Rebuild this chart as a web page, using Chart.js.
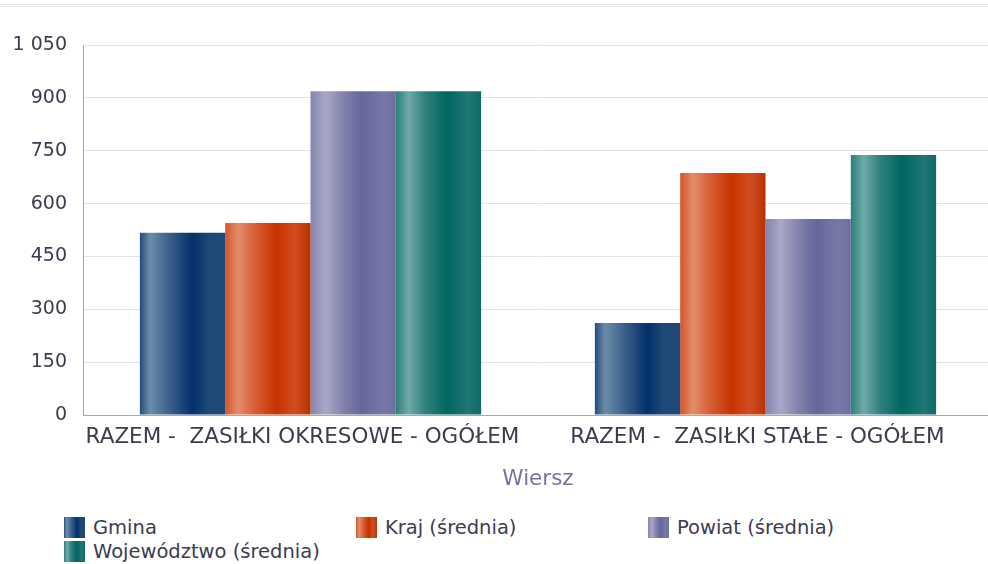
<!DOCTYPE html>
<html>
<head>
<meta charset="utf-8">
<script src="https://cdn.jsdelivr.net/npm/chart.js@4/dist/chart.umd.min.js"></script>
<style>
  html, body { margin: 0; padding: 0; background: #fff; overflow: hidden; width: 988px; height: 564px; }
  #topline { position: absolute; left: 0; top: 4px; width: 988px; height: 1px; border-top: 1px solid #e6e6ec; border-bottom: 1px solid #e6e6ec; }
  #wrap { position: absolute; left: 0; top: 0; width: 998px; height: 500px; }
  #legend { position: absolute; left: 0; top: 517px; width: 988px; font-family: "DejaVu Sans", sans-serif; font-size: 19.5px; color: #3c3c50; }
  .item { position: absolute; height: 21px; line-height: 21px; white-space: nowrap; }
  .box { position: absolute; left: 0; top: 0; width: 21px; height: 21px; }
  .lbl { position: absolute; left: 29px; top: 0; }
</style>
</head>
<body>
<div id="topline"></div>
<div id="wrap"><canvas id="c" width="998" height="500"></canvas></div>
<div id="legend"></div>
<script>
const categories = ["RAZEM -  ZASIŁKI OKRESOWE - OGÓŁEM", "RAZEM -  ZASIŁKI STAŁE - OGÓŁEM"];
const seriesNames = ["Gmina", "Kraj (średnia)", "Powiat (średnia)", "Województwo (średnia)"];
const gmina = [517, 261];
const kraj = [545, 687];
const powiat = [919, 556];
const wojewodztwo = [919, 738];
const yTicks = [0, 150, 300, 450, 600, 750, 900, 1050];

const baseColors = ["#0f3b6e", "#cc3d0e", "#6e6ea0", "#0b6b66"];
const stops = [
  [[0, "#244d7c"], [0.12, "#6d8cab"], [0.35, "#3a5f8a"], [0.62, "#02306a"], [0.8, "#1e4876"], [1, "#1f4a78"]],
  [[0, "#d4552c"], [0.15, "#e28c6c"], [0.35, "#d85e34"], [0.6, "#c63300"], [0.82, "#d24c22"], [1, "#b83200"]],
  [[0, "#8686ae"], [0.18, "#a8a8c8"], [0.4, "#8080aa"], [0.6, "#66669a"], [0.85, "#7878a8"], [1, "#6e6ea0"]],
  [[0, "#2e7e7a"], [0.15, "#6eaaa8"], [0.35, "#2e807c"], [0.6, "#006660"], [0.85, "#207674"], [1, "#0f6a66"]]
];
const CAT_PCT = 0.75;

function barGradient(ctx) {
  const chart = ctx.chart;
  const di = ctx.datasetIndex;
  if (ctx.type !== 'data' || !chart.chartArea || !chart.scales.x) return baseColors[di];
  const xs = chart.scales.x;
  const nDs = chart.data.datasets.length;
  const catW = (xs.right - xs.left) / categories.length;
  const barW = catW * CAT_PCT / nDs;
  const left = xs.getPixelForValue(ctx.dataIndex) - catW * CAT_PCT / 2 + di * barW;
  const g = chart.ctx.createLinearGradient(left, 0, left + barW, 0);
  stops[di].forEach(s => g.addColorStop(s[0], s[1]));
  return g;
}

const values = [gmina, kraj, powiat, wojewodztwo];
const fontFam = '"DejaVu Sans", sans-serif';

new Chart(document.getElementById('c'), {
  type: 'bar',
  data: {
    labels: categories,
    datasets: values.map((v, i) => ({
      label: seriesNames[i],
      data: v,
      backgroundColor: barGradient,
      borderWidth: 0,
      categoryPercentage: CAT_PCT,
      barPercentage: 1
    }))
  },
  options: {
    responsive: false,
    animation: false,
    layout: { padding: { top: 45, left: 0, right: 5, bottom: 0 } },
    plugins: { legend: { display: false }, tooltip: { enabled: false } },
    scales: {
      x: {
        grid: { display: false, drawTicks: false },
        border: { display: true, color: '#a4a4bc', width: 1 },
        ticks: { color: '#3c3c50', font: { family: fontFam, size: 21.5 }, padding: 10, labelOffset: -8, maxRotation: 0, autoSkip: false },
        title: { display: true, text: 'Wiersz', color: '#7474a0', font: { family: fontFam, size: 21.5 }, padding: { top: 0, bottom: 8 } },
        afterFit: s => { s.height = 85; }
      },
      y: {
        min: 0, max: 1050,
        afterBuildTicks: s => { s.ticks = yTicks.map(v => ({ value: v })); },
        grid: { color: '#e4e2ea', drawTicks: false, lineWidth: 1 },
        border: { display: true, color: '#a0a0c4', width: 1 },
        ticks: {
          color: '#3c3c50', font: { family: fontFam, size: 19 }, padding: 16,
          callback: v => String(v).replace(/\B(?=(\d{3})+(?!\d))/g, ' ')
        },
        afterFit: s => { s.width = 83; }
      }
    }
  }
});

// HTML legend
const legend = document.getElementById('legend');
const positions = [[64, 0], [356, 0], [648, 0], [64, 24]];
seriesNames.forEach((name, i) => {
  const it = document.createElement('div');
  it.className = 'item';
  it.style.left = positions[i][0] + 'px';
  it.style.top = positions[i][1] + 'px';
  const b = document.createElement('div');
  b.className = 'box';
  b.style.background = 'linear-gradient(to right, ' + stops[i].map(s => s[1] + ' ' + (s[0] * 100) + '%').join(', ') + ')';
  const t = document.createElement('span');
  t.className = 'lbl';
  t.textContent = name;
  it.appendChild(b); it.appendChild(t);
  legend.appendChild(it);
});
</script>
</body>
</html>
